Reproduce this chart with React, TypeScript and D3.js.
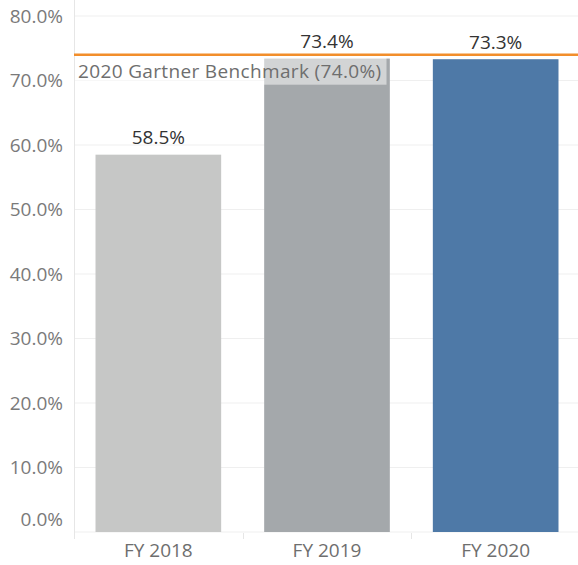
import React, { useRef, useEffect } from "react";
import * as d3 from "d3";

const categories = ["FY 2018", "FY 2019", "FY 2020"];
const values = [58.5, 73.4, 73.3];
const barColors = ["#c6c7c6", "#a4a8ab", "#4e79a7"];
const yTicks = [0, 10, 20, 30, 40, 50, 60, 70, 80];
const benchmarkValue = 74.0;
const benchmarkLabel = "2020 Gartner Benchmark (74.0%)";

const W = 578;
const H = 565;
const FONT = "'Open Sans', sans-serif";

const App = () => {
  const svgRef = useRef<SVGSVGElement>(null);

  useEffect(() => {
    const svg = d3.select(svgRef.current);
    svg.selectAll("*").remove();

    const margin = { top: 0, right: 0, bottom: 33, left: 74 };
    const x = d3
      .scaleBand()
      .domain(categories)
      .range([margin.left, 580])
      .paddingInner(0.255)
      .paddingOuter(0.1275);
    const y = d3.scaleLinear().domain([0, 80]).range([532, 16]);

    // gridlines
    svg
      .append("g")
      .selectAll("line")
      .data(yTicks)
      .join("line")
      .attr("x1", margin.left)
      .attr("x2", W)
      .attr("y1", (d) => y(d))
      .attr("y2", (d) => y(d))
      .attr("stroke", "#efefef")
      .attr("stroke-width", 1);

    // y axis line
    svg
      .append("line")
      .attr("x1", margin.left + 0.5)
      .attr("x2", margin.left + 0.5)
      .attr("y1", 0)
      .attr("y2", 539)
      .attr("stroke", "#e6e6e6");

    // category separators under the axis
    const step = x.step();
    svg
      .append("g")
      .selectAll("line")
      .data(categories.slice(1))
      .join("line")
      .attr("x1", (d) => Math.round(x(d)! - (step - x.bandwidth()) / 2) + 0.5)
      .attr("x2", (d) => Math.round(x(d)! - (step - x.bandwidth()) / 2) + 0.5)
      .attr("y1", 533)
      .attr("y2", 539)
      .attr("stroke", "#e6e6e6");

    // y labels (tableau nudges the 0% one up)
    svg
      .append("g")
      .selectAll("text")
      .data(yTicks)
      .join("text")
      .attr("x", 63)
      .attr("y", (d) => (d === 0 ? y(d) - 13 : y(d)))
      .attr("dy", "0.35em")
      .attr("text-anchor", "end")
      .attr("font-family", FONT)
      .attr("font-size", 19)
      .attr("fill", "#7a7a7a")
      .text((d) => d.toFixed(1) + "%");

    // bars
    svg
      .append("g")
      .selectAll("rect")
      .data(values)
      .join("rect")
      .attr("x", (d, i) => x(categories[i])!)
      .attr("width", x.bandwidth())
      .attr("y", (d) => y(d))
      .attr("height", (d) => y(0) - y(d))
      .attr("fill", (d, i) => barColors[i]);

    // bar labels
    svg
      .append("g")
      .selectAll("text")
      .data(values)
      .join("text")
      .attr("x", (d, i) => x(categories[i])! + x.bandwidth() / 2)
      .attr("y", (d) => y(d) - 17)
      .attr("dy", "0.35em")
      .attr("text-anchor", "middle")
      .attr("font-family", FONT)
      .attr("font-size", 19)
      .attr("fill", "#333")
      .text((d) => d.toFixed(1) + "%");

    // benchmark line
    svg
      .append("line")
      .attr("x1", margin.left)
      .attr("x2", W)
      .attr("y1", y(benchmarkValue))
      .attr("y2", y(benchmarkValue))
      .attr("stroke", "#f28e2b")
      .attr("stroke-width", 2.5);

    // benchmark label with translucent box
    const lbl = svg.append("g");
    const bg = lbl
      .append("rect")
      .attr("fill", "#ffffff")
      .attr("fill-opacity", 0.5);
    const t = lbl
      .append("text")
      .attr("x", margin.left + 4)
      .attr("y", y(benchmarkValue) + 17)
      .attr("dy", "0.35em")
      .attr("font-family", FONT)
      .attr("font-size", 19)
      .attr("letter-spacing", 0.35)
      .attr("fill", "#6e6e6e")
      .text(benchmarkLabel);
    const bb = (t.node() as SVGTextElement).getBBox();
    bg.attr("x", margin.left + 1)
      .attr("y", y(benchmarkValue) + 3)
      .attr("width", bb.width + 8)
      .attr("height", 27);

    // x labels
    svg
      .append("g")
      .selectAll("text")
      .data(categories)
      .join("text")
      .attr("x", (d) => x(d)! + x.bandwidth() / 2)
      .attr("y", 550)
      .attr("dy", "0.35em")
      .attr("text-anchor", "middle")
      .attr("font-family", FONT)
      .attr("font-size", 19)
      .attr("fill", "#6e6e6e")
      .text((d) => d);
  }, []);

  return (
    <svg
      ref={svgRef}
      width={W}
      height={H}
      style={{ position: "absolute", left: 0, top: 0, background: "#fff" }}
    ></svg>
  );
};

export default App;
